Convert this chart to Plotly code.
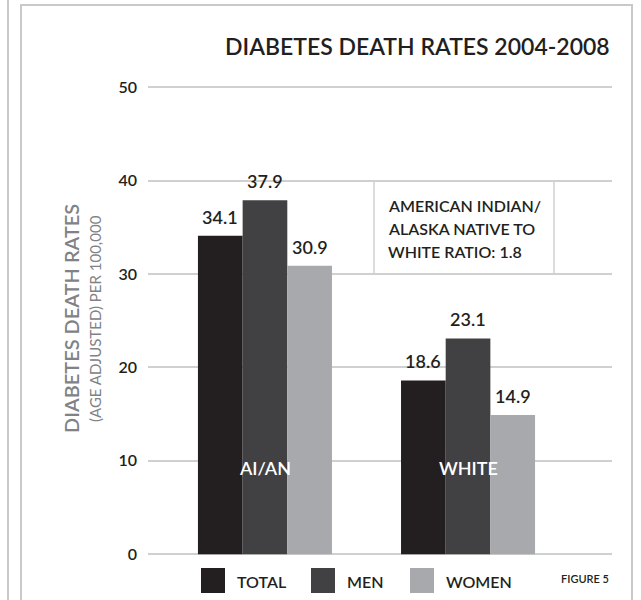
import plotly.graph_objects as go

# Diabetes death rates 2004-2008, age adjusted per 100,000
groups = ["AI/AN", "WHITE"]
series_names = ["TOTAL", "MEN", "WOMEN"]
series_values = {
    "TOTAL": [34.1, 18.6],
    "MEN": [37.9, 23.1],
    "WOMEN": [30.9, 14.9],
}
series_colors = {"TOTAL": "#231f20", "MEN": "#414042", "WOMEN": "#a7a9ac"}
y_ticks = [0, 10, 20, 30, 40, 50]
ratio_lines = ["AMERICAN INDIAN/", "ALASKA NATIVE TO", "WHITE RATIO: 1.8"]

FONT = "Lato, 'Open Sans', sans-serif"
INK = "#231f20"
GRID = "#d0d0d0"
BORDER = "#c9c9c9"
AXIS_GREY = "#808285"
MED = 600

W, H = 641, 600
ML, MR, MT, MB = 148, 29, 78, 44
plot_w = W - ML - MR
plot_h = H - MT - MB


def px_x(px):
    return (px - ML) / plot_w


def px_y(py):
    return (H - MB - py) / plot_h


fig = go.Figure()
for name in series_names:
    fig.add_trace(go.Bar(
        x=groups, y=series_values[name], name=name,
        marker=dict(color=series_colors[name], line=dict(width=0)),
        showlegend=False, hoverinfo="skip",
    ))

bargap = 0.34
bar_w_units = (1 - bargap) / len(series_names)
x_range = [-0.576, 1.709]
unit_px = plot_w / (x_range[1] - x_range[0])

annotations = []
# value labels above each bar
for i, name in enumerate(series_names):
    offset = (i - (len(series_names) - 1) / 2) * bar_w_units * unit_px
    for g, v in zip(groups, series_values[name]):
        annotations.append(dict(
            x=g, y=v, xref="x", yref="y", text=f"{v:.1f}", showarrow=False,
            xshift=offset, yshift=6, yanchor="bottom", xanchor="center",
            font=dict(family=FONT, size=18, color=INK, weight=MED),
        ))

# group names inside the bars
for g in groups:
    annotations.append(dict(
        x=g, y=9.2, xref="x", yref="y", text=g, showarrow=False,
        font=dict(family=FONT, size=18, color="white", weight=MED),
    ))

# title
annotations.append(dict(
    x=px_x(612), y=px_y(46), xref="paper", yref="paper", xanchor="right",
    yanchor="middle", text="DIABETES DEATH RATES 2004-2008",
    showarrow=False, font=dict(family=FONT, size=23, color=INK, weight=MED),
))

# y-axis titles
annotations.append(dict(
    x=px_x(57), y=px_y(319), xref="paper", yref="paper", textangle=-90,
    text="DIABETES DEATH RATES", showarrow=False,
    font=dict(family=FONT, size=20, color=AXIS_GREY, weight=MED),
))
annotations.append(dict(
    x=px_x(84), y=px_y(319), xref="paper", yref="paper", textangle=-90,
    text="(AGE ADJUSTED) PER 100,000", showarrow=False,
    font=dict(family=FONT, size=15, color=AXIS_GREY),
))

# ratio note
for k, line in enumerate(ratio_lines):
    annotations.append(dict(
        x=px_x(386), y=px_y(205 + 23 * k), xref="paper", yref="paper",
        xanchor="left", yanchor="middle", text=line, showarrow=False,
        font=dict(family=FONT, size=16, color=INK, weight=MED),
    ))

shapes = []
# ratio note box sides (top and bottom are the 40 and 30 gridlines)
for px in (374, 554):
    shapes.append(dict(type="line", xref="paper", yref="y",
                       x0=px_x(px), x1=px_x(px), y0=30, y1=40,
                       line=dict(color=GRID, width=1.5), layer="below"))

# legend
legend_x = {"TOTAL": 201, "MEN": 311, "WOMEN": 410}
for name in series_names:
    x0 = legend_x[name]
    shapes.append(dict(type="rect", xref="paper", yref="paper",
                       x0=px_x(x0), x1=px_x(x0 + 24),
                       y0=px_y(568), y1=px_y(593),
                       fillcolor=series_colors[name], line=dict(width=0)))
    annotations.append(dict(
        x=px_x(x0 + 34), y=px_y(581), xref="paper", yref="paper",
        xanchor="left", yanchor="middle", text=name, showarrow=False,
        font=dict(family=FONT, size=16, color=INK, weight=MED),
    ))
annotations.append(dict(
    x=px_x(611), y=px_y(578), xref="paper", yref="paper", xanchor="right",
    yanchor="middle", text="FIGURE 5", showarrow=False,
    font=dict(family=FONT, size=11, color=INK, weight=MED),
))

# panel frames
shapes.append(dict(type="line", xref="paper", yref="paper",
                   x0=px_x(8), x1=px_x(8), y0=px_y(0), y1=px_y(600),
                   line=dict(color=BORDER, width=2)))
shapes.append(dict(type="path", xref="paper", yref="paper",
                   path=(f"M {px_x(21)} {px_y(600)} L {px_x(21)} {px_y(5)} "
                         f"L {px_x(632)} {px_y(5)} L {px_x(632)} {px_y(600)}"),
                   line=dict(color=BORDER, width=2)))

fig.update_layout(
    width=W, height=H,
    margin=dict(l=ML, r=MR, t=MT, b=MB, autoexpand=False),
    paper_bgcolor="white", plot_bgcolor="white",
    barmode="group", bargap=bargap, bargroupgap=0,
    xaxis=dict(range=x_range, showticklabels=False, showgrid=False,
               zeroline=False, showline=False, fixedrange=True),
    yaxis=dict(range=[-0.2, 51], tickvals=y_ticks, showgrid=True,
               gridcolor=GRID, gridwidth=1.5, zeroline=False, showline=False,
               ticks="", ticklabelstandoff=10,
               tickfont=dict(family=FONT, size=16, color=INK, weight=MED)),
    annotations=annotations, shapes=shapes,
    font=dict(family=FONT),
)

fig.write_html("out.html")
